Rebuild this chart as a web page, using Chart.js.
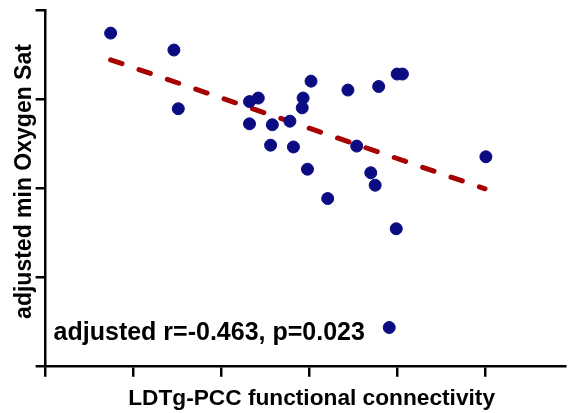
<!DOCTYPE html>
<html>
<head>
<meta charset="utf-8">
<script src="https://cdn.jsdelivr.net/npm/chart.js@4.4.1/dist/chart.umd.min.js"></script>
<style>
  html, body { margin: 0; padding: 0; background: #fff; }
  #wrap { width: 572px; height: 413px; }
</style>
</head>
<body>
<div id="wrap"><canvas id="scatter_chart"></canvas></div>
<script>
// connectivity (x) and adjusted oxygen sat (y) in axis-tick units
const connectivity = [0.74, 1.46, 1.51, 2.32, 2.42, 2.32, 2.58, 2.56, 2.78, 2.82, 2.92, 2.93, 3.02,
    2.98, 3.21, 3.44, 3.54, 3.79, 3.70, 3.75, 3.99, 4.00, 4.06, 5.01, 3.91];
const oxygenSat = [3.74, 3.55, 2.89, 2.97, 3.01, 2.72, 2.71, 2.48, 2.75, 2.46, 2.90, 3.01, 3.20,
    2.21, 1.88, 3.10, 2.47, 3.14, 2.17, 2.03, 1.54, 3.28, 3.28, 2.35, 0.43];

// fitted line end points
const fitX = [0.74, 5.0];
const fitY = [3.44, 1.99];

const xTicks = [0, 1, 2, 3, 4, 5];
const yTicks = [0, 1, 2, 3, 4];

const statsText = 'adjusted r=-0.463, p=0.023';

const fontFamily = '"Liberation Sans", Arial, sans-serif';

/* draws the r / p annotation in the lower left of the plot */
const statsLabel = {
    id: 'statsLabel',
    afterDatasetsDraw(chart) {
        const ctx = chart.ctx;
        const area = chart.chartArea;
        ctx.save();
        ctx.font = 'bold 25px ' + fontFamily;
        ctx.fillStyle = '#000';
        ctx.textBaseline = 'alphabetic';
        ctx.fillText(statsText, area.left + 8, area.bottom - 26);
        ctx.restore();
    }
};

const scatterData = {
    datasets: [{
        type: 'scatter',
        data: connectivity.map((x, i) => ({ x: x, y: oxygenSat[i] })),
        backgroundColor: '#0b0b82',
        borderColor: '#0b0b82',
        borderWidth: 1,
        pointRadius: 6,
        order: 1
    }, {
        type: 'line',
        data: fitX.map((x, i) => ({ x: x, y: fitY[i] })),
        borderColor: '#a60000',
        borderWidth: 5,
        borderDash: [12, 18],
        borderCapStyle: 'round',
        pointRadius: 0,
        fill: false,
        order: 2
    }]
};

const axisTicks = list => axis => { axis.ticks = list.map(v => ({ value: v })); };

const scatterOptions = {
    responsive: true,
    maintainAspectRatio: false,
    animation: false,
    clip: false,
    layout: { padding: { left: 11, top: 10, right: 0, bottom: 1 } },
    plugins: {
        legend: { display: false },
        tooltip: { enabled: false }
    },
    scales: {
        x: {
            type: 'linear',
            min: 0,
            max: 5.91,
            afterBuildTicks: axisTicks(xTicks),
            border: { display: true, color: '#000', width: 2.5 },
            grid: { display: true, drawOnChartArea: false, drawTicks: true, tickLength: 11, color: '#000', lineWidth: 2.5 },
            ticks: { display: false },
            title: {
                display: true,
                text: '  LDTg-PCC functional connectivity',
                color: '#000',
                font: { family: fontFamily, size: 22.7, weight: 'bold' },
                padding: { top: 8, bottom: 0 }
            }
        },
        y: {
            type: 'linear',
            min: 0,
            max: 4,
            afterBuildTicks: axisTicks(yTicks),
            border: { display: true, color: '#000', width: 2.5 },
            grid: { display: true, drawOnChartArea: false, drawTicks: true, tickLength: 10, color: '#000', lineWidth: 2.5 },
            ticks: { display: false },
            title: {
                display: true,
                // leading spaces nudge the centred title up a little, as in the original
                text: '  adjusted min Oxygen Sat',
                color: '#000',
                font: { family: fontFamily, size: 23, weight: 'bold' },
                padding: { top: 0, bottom: -3 }
            }
        }
    }
};

let scatterChart = new Chart(document.getElementById('scatter_chart'), {
    data: scatterData,
    options: scatterOptions,
    plugins: [statsLabel]
});
</script>
</body>
</html>
